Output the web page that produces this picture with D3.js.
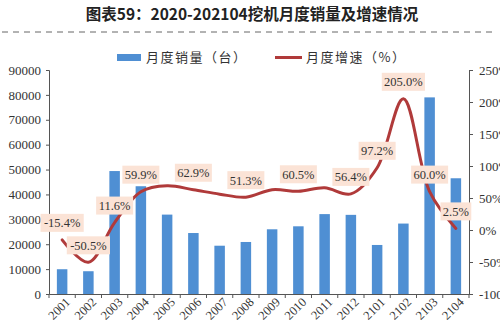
<!DOCTYPE html>
<html><head><meta charset="utf-8">
<script src="https://cdn.jsdelivr.net/npm/d3@7"></script>
<style>body{margin:0;background:#fff}svg{display:block}</style>
</head><body><svg id="c" width="500" height="323"></svg>
<script>
const categories = ["2001","2002","2003","2004","2005","2006","2007","2008","2009","2010","2011","2012","2101","2102","2103","2104"];
const sales = [9950, 9150, 49400, 43300, 31900, 24500, 19400, 20900, 26000, 27200, 32100, 31800, 19700, 28300, 79000, 46500];
const growth = [-15.4, -50.5, 11.6, 59.9, 69.0, 62.9, 56.0, 51.3, 63.0, 60.5, 66.0, 56.4, 97.2, 205.0, 60.0, 2.5];
const growthLabels = ["-15.4%","-50.5%","11.6%","59.9%",null,"62.9%",null,"51.3%",null,"60.5%",null,"56.4%","97.2%","205.0%","60.0%","2.5%"];
const leftTicks = [0,10000,20000,30000,40000,50000,60000,70000,80000,90000];
const rightTicks = [-100,-50,0,50,100,150,200,250];
const titleText = "图表59：2020-202104挖机月度销量及增速情况";
const legendNames = ["月度销量（台）","月度增速（%）"];

const svg = d3.select("#c");
const L = 49, R = 469, T = 70, B = 294;
const serif = "'Liberation Serif','Times New Roman',serif";
const cjk = "'Noto Sans CJK SC',sans-serif";
const blue = "#4f8fd3", red = "#b03a3a";

const x = d3.scaleBand().domain(categories).range([L, R]).paddingInner(0.6).paddingOuter(0.3);
const yL = d3.scaleLinear().domain([0, 90000]).range([B, T]);
const yR = d3.scaleLinear().domain([-100, 250]).range([B, T]);

// title
svg.append("text").attr("x", 252).attr("y", 20).attr("text-anchor", "middle")
  .attr("font-family", cjk).attr("font-weight", 700).attr("font-size", 15.5).attr("fill", "#222")
  .text(titleText);
svg.append("line").attr("x1", 2).attr("x2", 496).attr("y1", 32).attr("y2", 32)
  .attr("stroke", "#666").attr("stroke-width", 1).attr("stroke-dasharray", "6,5");

// legend
svg.append("rect").attr("x", 117).attr("y", 54).attr("width", 24).attr("height", 7).attr("fill", blue);
svg.append("text").attr("x", 146).attr("y", 62).attr("font-family", cjk).attr("font-size", 13)
  .attr("letter-spacing", 1.5).attr("fill", "#333").text(legendNames[0]);
svg.append("line").attr("x1", 275).attr("x2", 302).attr("y1", 57.5).attr("y2", 57.5).attr("stroke", red).attr("stroke-width", 3);
svg.append("text").attr("x", 306).attr("y", 62).attr("font-family", cjk).attr("font-size", 13)
  .attr("letter-spacing", 1.5).attr("fill", "#333").text(legendNames[1]);

// bars
svg.append("g").selectAll("rect").data(sales).join("rect")
  .attr("x", (d, i) => x(categories[i])).attr("width", x.bandwidth())
  .attr("y", d => yL(d)).attr("height", d => B - yL(d)).attr("fill", blue);

// axes
const gl = svg.append("g").attr("transform", `translate(${L},0)`)
  .call(d3.axisLeft(yL).tickValues(leftTicks).tickSize(3).tickPadding(5).tickFormat(d3.format("d")));
const gr = svg.append("g").attr("transform", `translate(${R},0)`)
  .call(d3.axisRight(yR).tickValues(rightTicks).tickSize(4).tickPadding(6).tickFormat(d => d + "%"));
const xb = d3.scaleBand().domain(categories).range([L, R]);
const gx = svg.append("g").attr("transform", `translate(0,${B})`)
  .call(d3.axisBottom(xb).tickSize(0).tickPadding(4));
// boundary ticks
svg.append("g").selectAll("line").data(d3.range(categories.length + 1)).join("line")
  .attr("x1", i => L + i * xb.step()).attr("x2", i => L + i * xb.step())
  .attr("y1", B).attr("y2", B + 4).attr("stroke", "#555");

[gl, gr, gx].forEach(g => {
  g.select(".domain").attr("stroke", "#555");
  g.selectAll(".tick line").attr("stroke", "#555");
  g.selectAll("text").attr("font-family", serif).attr("font-size", 13).attr("fill", "#333");
});
gx.selectAll("text").attr("text-anchor", "end").attr("dy", null)
  .attr("transform", "translate(6,6) rotate(-45)").attr("font-size", 12.5);

// line
const line = d3.line().x((d, i) => x(categories[i]) + x.bandwidth() / 2).y(d => yR(d))
  .curve(d3.curveCatmullRom.alpha(0.5));
svg.append("path").datum(growth).attr("d", line).attr("fill", "none")
  .attr("stroke", red).attr("stroke-width", 3).attr("stroke-linecap", "round");

// data labels
const lg = svg.append("g");
growth.forEach((d, i) => {
  if (!growthLabels[i]) return;
  const cx = x(categories[i]) + x.bandwidth() / 2, cy = yR(d) - 17;
  const t = growthLabels[i];
  const w = t.length * 6.2 + 6;
  lg.append("rect").attr("x", cx - w / 2).attr("y", cy - 9).attr("width", w).attr("height", 18)
    .attr("fill", "#fbe3d6");
  lg.append("text").attr("x", cx).attr("y", cy + 4.5).attr("text-anchor", "middle")
    .attr("font-family", serif).attr("font-size", 12.5).attr("fill", "#333").text(t);
});
</script></body></html>
